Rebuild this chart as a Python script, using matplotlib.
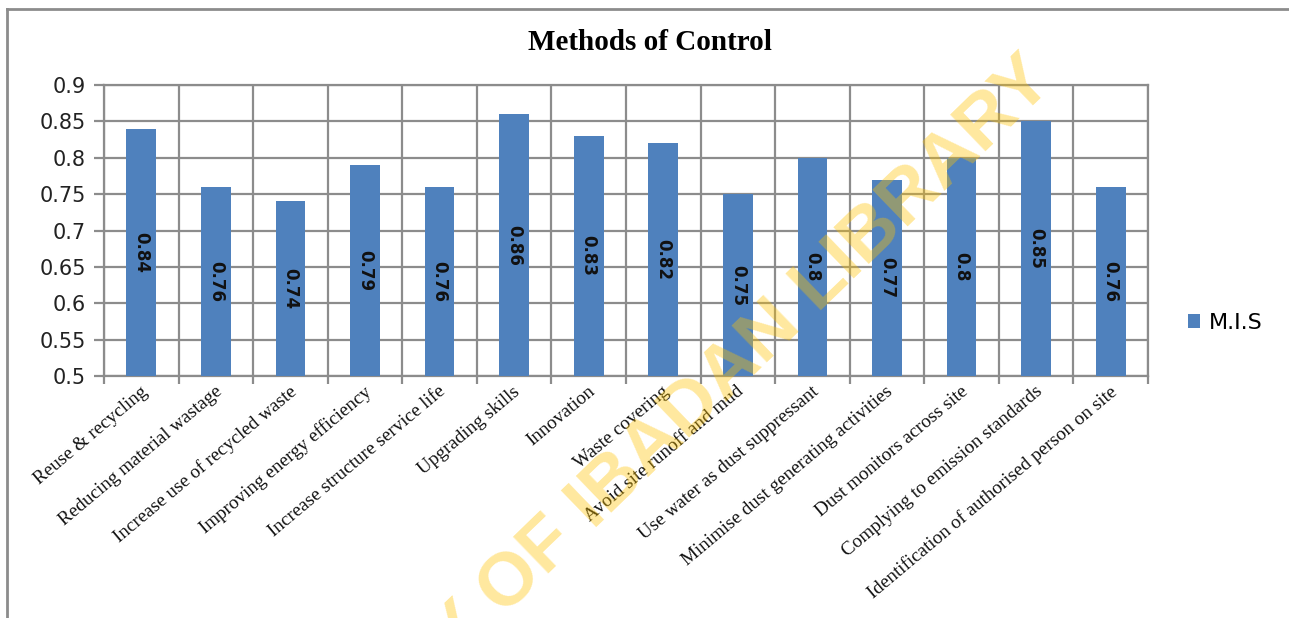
import matplotlib
matplotlib.use("Agg")
import matplotlib.pyplot as plt
from matplotlib.lines import Line2D
import numpy as np

categories = [
    "Reuse & recycling",
    "Reducing material wastage",
    "Increase use of recycled waste",
    "Improving energy efficiency",
    "Increase structure service life",
    "Upgrading skills",
    "Innovation",
    "Waste covering",
    "Avoid site runoff and mud",
    "Use water as dust suppressant",
    "Minimise dust generating activities",
    "Dust monitors across site",
    "Complying to emission standards",
    "Identification of authorised person on site",
]
mis_values = [0.84, 0.76, 0.74, 0.79, 0.76, 0.86, 0.83, 0.82, 0.75, 0.80, 0.77, 0.80, 0.85, 0.76]
value_labels = ["0.84", "0.76", "0.74", "0.79", "0.76", "0.86", "0.83", "0.82", "0.75", "0.8", "0.77", "0.8", "0.85", "0.76"]
y_ticks = [0.5, 0.55, 0.6, 0.65, 0.7, 0.75, 0.8, 0.85, 0.9]
y_ticklabels = ["0.5", "0.55", "0.6", "0.65", "0.7", "0.75", "0.8", "0.85", "0.9"]
series_name = "M.I.S"
title = "Methods of Control"
watermark = "UNIVERSITY OF IBADAN LIBRARY"

W, H = 1289, 618
fig = plt.figure(figsize=(W / 100, H / 100), dpi=100)
fig.patch.set_facecolor("white")

ax = fig.add_axes([104 / W, 1 - 376 / H, (1148 - 104) / W, (376 - 85) / H])

x = np.arange(len(categories))
bar_color = "#4F81BD"
bars = ax.bar(x, [v - 0.5 for v in mis_values], bottom=0.5, width=0.40,
              color=bar_color, label=series_name, zorder=3)

ax.set_xlim(-0.5, len(categories) - 0.5)
ax.set_ylim(0.5, 0.9)

grid_color = "#8C8C8C"
ax.set_yticks(y_ticks)
ax.set_yticklabels(y_ticklabels, fontsize=15, family="DejaVu Sans", color="#222222")
ax.yaxis.grid(True, color=grid_color, linewidth=1.6, zorder=0)
# vertical gridlines between categories
ax.set_xticks(np.arange(len(categories) + 1) - 0.5, minor=False)
ax.set_xticklabels([])
ax.xaxis.grid(True, color=grid_color, linewidth=1.6, zorder=0)
ax.tick_params(axis="x", which="major", length=6, width=1.6, color=grid_color)
ax.tick_params(axis="y", which="major", length=7, width=1.6, color=grid_color, pad=6)
ax.set_axisbelow(True)

# category labels at bar centers
ax.set_xticks(x - 0.02, minor=True)
ax.set_xticklabels(categories, minor=True, rotation=40, ha="right",
                   rotation_mode="anchor", family="Liberation Serif", fontsize=13.8,
                   color="#111111")
ax.tick_params(axis="x", which="minor", length=0, pad=5)

for side in ["top", "right", "bottom", "left"]:
    ax.spines[side].set_color(grid_color)
    ax.spines[side].set_linewidth(1.6)

for b, lab in zip(bars, value_labels):
    cx = b.get_x() + b.get_width() / 2
    cy = b.get_y() + b.get_height() / 2
    ax.text(cx, cy, lab, rotation=-90, ha="center", va="center",
            fontsize=12, fontweight="bold", family="DejaVu Sans",
            color="#111111", zorder=4)

fig.text(650 / W, 1 - 42 / H, title, ha="center", va="center",
         fontsize=21, fontweight="bold", family="Liberation Serif")

leg = fig.legend(handles=[bars], labels=[series_name], loc="center left",
                 bbox_to_anchor=(1168 / W, 1 - 323 / H), frameon=False,
                 fontsize=16, handlelength=0.55, handleheight=0.55,
                 handletextpad=0.4)

# outer chart frame (top and left edges)
fig.add_artist(Line2D([7 / W, 1.0], [1 - 9 / H, 1 - 9 / H], transform=fig.transFigure,
                      color="#8C8C8C", linewidth=2))
fig.add_artist(Line2D([7 / W, 7 / W], [0.0, 1 - 9 / H], transform=fig.transFigure,
                      color="#8C8C8C", linewidth=2))

# watermark
fig.text(1042 / W, 1 - 70 / H, watermark, rotation=44, rotation_mode="anchor",
         ha="right", va="center", fontsize=54, fontweight="bold",
         family="Liberation Sans", color="#FFC300", alpha=0.38, zorder=10)

fig.savefig("out.png", dpi=100)
